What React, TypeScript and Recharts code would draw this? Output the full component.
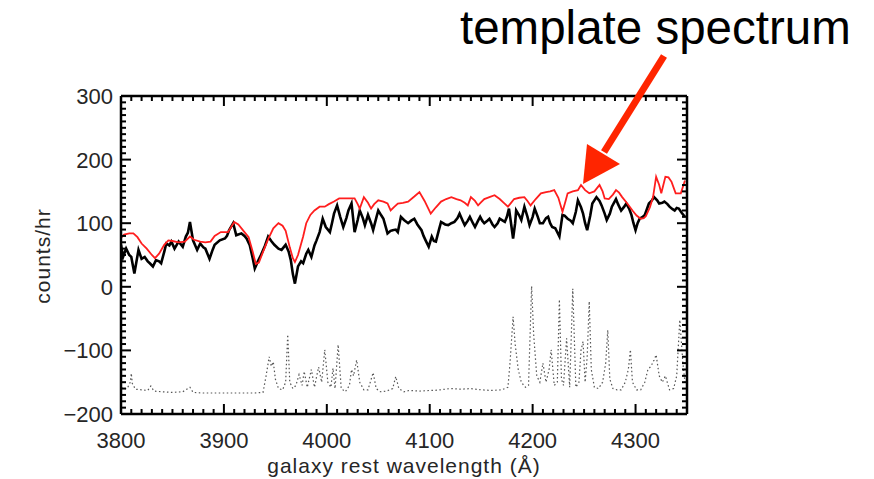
import React from 'react';
import { LineChart, Line, XAxis, YAxis, Label } from 'recharts';

// observed galaxy spectrum (black)
const obsWave = [
  3800, 3802, 3805, 3808, 3810, 3813, 3817, 3820, 3823, 3826, 3828, 3831, 3834, 3837, 3839, 3842, 3844, 3847, 3849, 3852,
  3856, 3860, 3863, 3865, 3867, 3870, 3874, 3877, 3880, 3882, 3886, 3889, 3891, 3896, 3901, 3903, 3905, 3909, 3912, 3917,
  3920, 3922, 3925, 3928, 3930, 3933, 3936, 3940, 3943, 3946, 3949, 3953, 3956, 3960, 3963, 3965, 3967, 3969, 3972, 3975,
  3977, 3980, 3982, 3985, 3988, 3990, 3993, 3996, 3999, 4003, 4005, 4007, 4010, 4013, 4016, 4019, 4021, 4024, 4027, 4030,
  4032, 4035, 4037, 4040, 4043, 4045, 4048, 4050, 4053, 4055, 4059, 4062, 4064, 4067, 4069, 4072, 4075, 4079, 4082, 4085,
  4088, 4092, 4094, 4096, 4099, 4102, 4104, 4106, 4109, 4111, 4115, 4118, 4121, 4124, 4127, 4129, 4132, 4134, 4137, 4139,
  4142, 4144, 4147, 4149, 4151, 4153, 4156, 4158, 4161, 4163, 4166, 4168, 4171, 4173, 4175, 4177, 4179, 4181, 4183, 4184,
  4187, 4189, 4192, 4195, 4197, 4200, 4202, 4205, 4207, 4210, 4213, 4215, 4217, 4219, 4222, 4226, 4229, 4231, 4234, 4237,
  4239, 4242, 4244, 4247, 4249, 4251, 4253, 4256, 4258, 4262, 4265, 4267, 4270, 4272, 4275, 4277, 4281, 4283, 4286, 4289,
  4291, 4294, 4296, 4298, 4300, 4302, 4304, 4307, 4309, 4311, 4313, 4316, 4318, 4321, 4323, 4326, 4328, 4331, 4333, 4336,
  4338, 4340, 4342, 4345, 4348,
];
const obsFlux = [
  66, 47, 60, 50, 47, 21, 58, 44, 47, 40, 37, 32, 42, 40, 37, 55, 68, 65, 71, 60,
  71, 63, 79, 85, 102, 73, 58, 68, 62, 60, 44, 58, 66, 73, 76, 80, 89, 100, 81, 84,
  80, 76, 66, 45, 29, 40, 50, 65, 79, 72, 66, 60, 58, 66, 55, 42, 20, 5, 32, 40,
  37, 52, 58, 47, 65, 73, 86, 107, 94, 86, 100, 115, 128, 110, 94, 108, 120, 131, 86, 105,
  120, 108, 97, 113, 100, 89, 108, 120, 112, 107, 84, 88, 89, 90, 86, 110, 105, 100, 104, 107,
  98, 89, 80, 73, 63, 79, 72, 71, 90, 102, 98, 97, 100, 102, 108, 115, 104, 97, 104, 110,
  100, 94, 104, 110, 104, 100, 104, 107, 98, 94, 100, 107, 104, 102, 110, 123, 100, 76, 100, 120,
  112, 105, 126, 110, 97, 110, 123, 110, 100, 100, 108, 110, 100, 94, 92, 79, 113, 112, 107, 104,
  100, 118, 136, 125, 115, 100, 89, 112, 131, 141, 135, 128, 115, 105, 115, 126, 138, 130, 120, 126,
  131, 122, 113, 100, 89, 100, 107, 110, 113, 122, 131, 136, 141, 136, 131, 132, 134, 130, 126, 122,
  120, 124, 123, 116, 110,
];

// template spectrum (red)
const tmplWave = [
  3800, 3803, 3808, 3812, 3816, 3820, 3825, 3830, 3833, 3837, 3842, 3846, 3850, 3856, 3862, 3867, 3871, 3877, 3882, 3887,
  3891, 3897, 3904, 3910, 3914, 3920, 3924, 3928, 3931, 3934, 3938, 3943, 3948, 3953, 3957, 3960, 3964, 3967, 3969, 3972,
  3977, 3980, 3984, 3988, 3993, 3998, 4002, 4007, 4012, 4020, 4027, 4030, 4032, 4036, 4040, 4043, 4046, 4050, 4055, 4059,
  4062, 4065, 4069, 4074, 4079, 4085, 4090, 4095, 4101, 4106, 4111, 4116, 4121, 4126, 4130, 4134, 4137, 4140, 4144, 4147,
  4150, 4153, 4158, 4163, 4168, 4172, 4176, 4179, 4182, 4187, 4192, 4195, 4198, 4203, 4208, 4213, 4217, 4221, 4225, 4229,
  4232, 4234, 4239, 4244, 4247, 4251, 4255, 4260, 4265, 4268, 4270, 4274, 4278, 4281, 4284, 4287, 4292, 4297, 4301, 4305,
  4308, 4310, 4314, 4317, 4320, 4323, 4325, 4327, 4329, 4332, 4335, 4339, 4344, 4348,
];
const tmplFlux = [
  77, 82, 84, 84, 78, 68, 60, 50, 45, 52, 66, 73, 72, 70, 71, 79, 74, 71, 70, 71,
  80, 86, 86, 102, 98, 86, 78, 55, 36, 38, 55, 75, 92, 100, 96, 88, 62, 45, 39, 50,
  79, 100, 113, 120, 126, 126, 130, 134, 139, 139, 139, 130, 123, 141, 132, 123, 130, 136, 134, 131,
  120, 125, 131, 132, 134, 142, 149, 135, 115, 125, 134, 138, 141, 138, 136, 132, 128, 141, 135, 128,
  133, 138, 141, 144, 138, 132, 126, 132, 138, 140, 141, 135, 128, 138, 147, 149, 150, 152, 140, 118,
  135, 147, 150, 152, 160, 152, 147, 150, 160, 150, 139, 138, 145, 152, 148, 141, 131, 120, 112, 107,
  108, 111, 125, 141, 173, 160, 147, 160, 173, 172, 165, 147, 147, 167,
];

// emission-line / sky spectrum (dotted)
const skyWave = [
  3800, 3803, 3806, 3809, 3810, 3811, 3814, 3820, 3826, 3829, 3832, 3840, 3850, 3860, 3867, 3870, 3880, 3890, 3900, 3910,
  3920, 3930, 3938, 3941, 3944, 3946, 3948, 3950, 3953, 3957, 3960, 3962, 3964, 3967, 3970, 3973, 3976, 3978, 3981, 3985,
  3988, 3992, 3995, 3998, 4001, 4004, 4006, 4008, 4011, 4014, 4018, 4022, 4024, 4026, 4029, 4032, 4036, 4040, 4045, 4048,
  4052, 4058, 4064, 4067, 4070, 4075, 4080, 4090, 4100, 4105, 4110, 4120, 4130, 4140, 4150, 4160, 4170, 4176, 4178, 4181,
  4183, 4186, 4189, 4193, 4196, 4199, 4201, 4204, 4207, 4210, 4213, 4216, 4218, 4221, 4224, 4226, 4228, 4230, 4233, 4236,
  4239, 4242, 4245, 4247, 4249, 4251, 4253, 4255, 4257, 4260, 4264, 4268, 4271, 4273, 4275, 4278, 4282, 4286, 4290, 4293,
  4295, 4297, 4301, 4305, 4309, 4312, 4315, 4318, 4320, 4323, 4326, 4329, 4333, 4337, 4340, 4343, 4346, 4348,
];
const skyFlux = [
  -158, -160, -160, -150, -136, -152, -161, -162, -163, -156, -164, -165, -166, -165, -158, -166, -167, -167, -167, -167,
  -167, -167, -166, -140, -110, -125, -118, -145, -160, -162, -150, -75, -150, -160, -155, -138, -155, -133, -158, -130,
  -158, -126, -150, -99, -150, -158, -128, -160, -91, -160, -165, -155, -130, -140, -115, -150, -162, -162, -135, -160,
  -165, -164, -160, -141, -160, -165, -163, -164, -163, -163, -162, -160, -161, -160, -162, -163, -162, -158, -120, -47,
  -90, -130, -150, -158, -155, 1, -75, -140, -150, -120, -150, -130, -99, -155, -150, -20, -145, -155, -81, -158,
  -3, -158, -150, -100, -86, -150, -110, -23, -130, -158, -160, -150, -120, -68, -145, -160, -162, -162, -150, -130,
  -99, -150, -162, -162, -150, -130, -125, -115, -107, -140, -150, -140, -162, -160, -140, -52, -120, -150,
];

const xMajor = [3800, 3900, 4000, 4100, 4200, 4300];
const yMajor = [-200, -100, 0, 100, 200, 300];

const xTicks = Array.from({ length: 56 }, (_, i) => 3800 + i * 10);
const yTicks = Array.from({ length: 51 }, (_, i) => -200 + i * 10);

const obsData = obsWave.map((w, i) => ({ w, f: obsFlux[i] }));
const tmplData = tmplWave.map((w, i) => ({ w, f: tmplFlux[i] }));
const skyData = skyWave.map((w, i) => ({ w, f: skyFlux[i] }));

const FONT = '"Liberation Sans", Arial, sans-serif';
const labelStyle = { fontFamily: FONT, fontSize: 22, fill: '#262626' };

const fmt = (v: number) => (v < 0 ? '\u2212' + Math.abs(v) : String(v));

const BottomTick = ({ x, y, payload }: any) => {
  const major = xMajor.includes(payload.value);
  return (
    <g>
      <line x1={x} x2={x} y1={y} y2={y - (major ? 10 : 5)} stroke="#000" strokeWidth={2} />
      {major && (
        <text x={x} y={y + 34} textAnchor="middle" style={labelStyle}>
          {payload.value}
        </text>
      )}
    </g>
  );
};

const TopTick = ({ x, y, payload }: any) => {
  const major = xMajor.includes(payload.value);
  return <line x1={x} x2={x} y1={y} y2={y + (major ? 10 : 5)} stroke="#000" strokeWidth={2} />;
};

const LeftTick = ({ x, y, payload }: any) => {
  const major = yMajor.includes(payload.value);
  return (
    <g>
      <line x1={x} x2={x + (major ? 10 : 5)} y1={y} y2={y} stroke="#000" strokeWidth={2} />
      {major && (
        <text x={x - 8} y={y + 8} textAnchor="end" style={labelStyle}>
          {fmt(payload.value)}
        </text>
      )}
    </g>
  );
};

const RightTick = ({ x, y, payload }: any) => {
  const major = yMajor.includes(payload.value);
  return <line x1={x} x2={x - (major ? 10 : 5)} y1={y} y2={y} stroke="#000" strokeWidth={2} />;
};

const axisLine = { stroke: '#000', strokeWidth: 2.5 };

export default function App() {
  return (
    <div style={{ position: 'relative', width: 874, height: 479, background: '#fff' }}>
      <style>{'body{margin:0}'}</style>
      <LineChart width={874} height={479} margin={{ top: 95, right: 186, bottom: 35, left: 61 }}>
        <XAxis
          dataKey="w"
          type="number"
          domain={[3800, 4350]}
          ticks={xTicks}
          interval={0}
          allowDataOverflow
          height={30}
          tickSize={0}
          tickMargin={0}
          axisLine={axisLine}
          tickLine={false}
          tick={<BottomTick />}
        >
          <Label
            content={({ viewBox }: any) => (
              <text
                x={viewBox.x + viewBox.width / 2}
                y={473}
                textAnchor="middle"
                style={{ fontFamily: FONT, fontSize: 21, letterSpacing: 1, fill: '#262626' }}
              >
                galaxy rest wavelength (Å)
              </text>
            )}
          />
        </XAxis>
        <XAxis
          xAxisId="top"
          orientation="top"
          dataKey="w"
          type="number"
          domain={[3800, 4350]}
          ticks={xTicks}
          interval={0}
          allowDataOverflow
          height={1}
          tickSize={0}
          tickMargin={0}
          axisLine={axisLine}
          tickLine={false}
          tick={<TopTick />}
        />
        <YAxis
          type="number"
          domain={[-200, 300]}
          ticks={yTicks}
          interval={0}
          allowDataOverflow
          width={60}
          tickSize={0}
          tickMargin={0}
          axisLine={axisLine}
          tickLine={false}
          tick={<LeftTick />}
        >
          <Label
            content={() => {
              const cx = 42;
              const cy = 256;
              return (
                <text
                  x={cx}
                  y={cy}
                  textAnchor="middle"
                  dominantBaseline="central"
                  transform={`rotate(-90 ${cx} ${cy})`}
                  style={{ fontFamily: FONT, fontSize: 21, letterSpacing: 1, fill: '#262626' }}
                >
                  counts/hr
                </text>
              );
            }}
          />
        </YAxis>
        <YAxis
          yAxisId="right"
          orientation="right"
          type="number"
          domain={[-200, 300]}
          ticks={yTicks}
          interval={0}
          allowDataOverflow
          width={1}
          tickSize={0}
          tickMargin={0}
          axisLine={axisLine}
          tickLine={false}
          tick={<RightTick />}
        />
        <Line
          data={skyData}
          dataKey="f"
          type="linear"
          stroke="#555"
          strokeWidth={1.2}
          strokeDasharray="1.5 2.5"
          dot={false}
          isAnimationActive={false}
        />
        <Line
          data={obsData}
          dataKey="f"
          type="linear"
          stroke="#000"
          strokeWidth={2.6}
          dot={false}
          isAnimationActive={false}
        />
        <Line
          data={tmplData}
          dataKey="f"
          type="linear"
          stroke="#ff1e1e"
          strokeWidth={1.8}
          dot={false}
          isAnimationActive={false}
        />
      </LineChart>
      <svg
        width={874}
        height={479}
        style={{ position: 'absolute', left: 0, top: 0, pointerEvents: 'none' }}
      >
        <text x={460} y={44} style={{ fontFamily: FONT, fontSize: 47.5, fill: '#000' }}>
          template spectrum
        </text>
        <line x1={664} y1={56} x2={604} y2={152} stroke="#ff2500" strokeWidth={7} />
        <polygon points="583,184 587,144 620,164" fill="#ff2500" />
      </svg>
    </div>
  );
}
